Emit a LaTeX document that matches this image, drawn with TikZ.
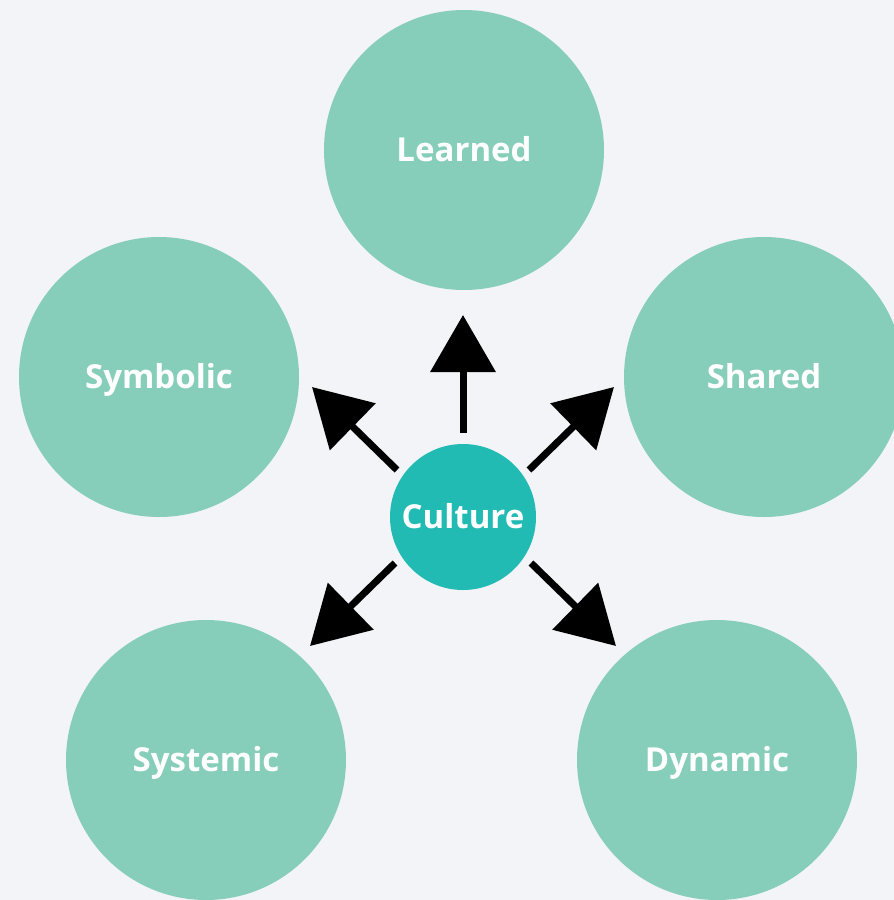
\documentclass[tikz,border=0pt]{standalone}
\usepackage{fontspec}
\setmainfont{Open Sans}
\usetikzlibrary{arrows.meta}
\definecolor{bgc}{HTML}{F3F4F8}
\definecolor{mint}{HTML}{86CEBA}
\definecolor{teal}{HTML}{22BBB3}
\tikzset{
  bubble/.style={circle, fill=mint, minimum size=280pt, inner sep=0pt,
    text=white, font=\fontsize{33}{38}\selectfont\bfseries,
    text height=23.5pt, text depth=0pt},
  hub/.style={circle, fill=teal, minimum size=146pt, inner sep=0pt,
    text=white, font=\fontsize{33}{38}\selectfont\bfseries,
    text height=23.5pt, text depth=0pt},
  arr/.style={line width=7pt, -{Triangle[width=64pt,length=57pt]}}
}
\begin{document}
\begin{tikzpicture}[x=1pt,y=-1pt]
\fill[bgc] (0,0) rectangle (894,900);
\useasboundingbox (0,0) rectangle (894,900);
\node[bubble] (learned) at (464,150) {Learned};
\node[bubble] (symbolic) at (159,377) {Symbolic};
\node[bubble] (shared) at (764,377) {Shared};
\node[bubble] (systemic) at (206,760) {Systemic};
\node[bubble] (dynamic) at (717,760) {Dynamic};
\node[hub] (culture) at (463,517) {Culture};
\coordinate (sU) at (463,433);  \coordinate (tU) at (463,315);
\coordinate (sUL) at (397,470); \coordinate (tUL) at (312,387);
\coordinate (sUR) at (529,470); \coordinate (tUR) at (614,387);
\coordinate (sLL) at (395,563); \coordinate (tLL) at (310,646);
\coordinate (sLR) at (531,563); \coordinate (tLR) at (616,646);
\draw[arr] (sU) -- (tU);
\draw[arr] (sUL) -- (tUL);
\draw[arr] (sUR) -- (tUR);
\draw[arr] (sLL) -- (tLL);
\draw[arr] (sLR) -- (tLR);
\end{tikzpicture}
\end{document}
